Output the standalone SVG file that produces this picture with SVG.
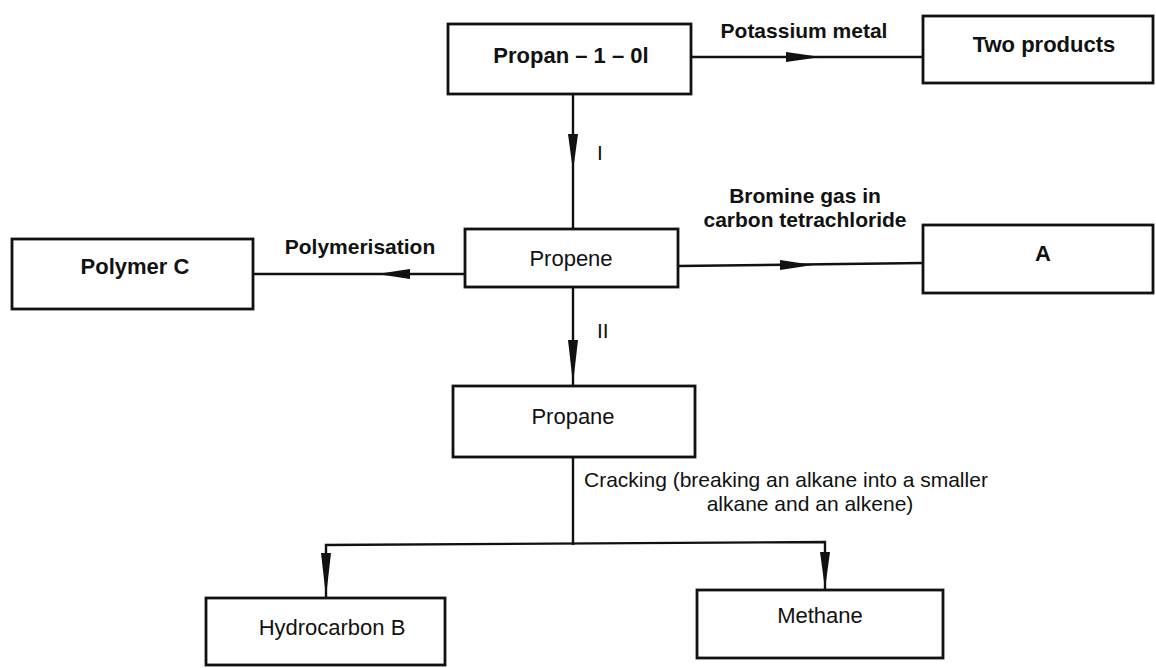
<svg xmlns="http://www.w3.org/2000/svg" width="1156" height="668" viewBox="0 0 1156 668">
<style>
.box{fill:#fff;stroke:#111;stroke-width:2.8}
.ln{fill:none;stroke:#111;stroke-width:2.4}
.hd{fill:#111;stroke:none}
text{font-family:"Liberation Sans",Arial,sans-serif;fill:#111}
.t{font-size:22px;text-anchor:middle}
.b{font-weight:bold}
.lb{font-size:21px}
</style>
<rect width="1156" height="668" fill="#fff"/>
<g id="connectors">
<line class="ln" x1="691" y1="57" x2="923" y2="57"/>
<polygon class="hd" points="786,52 786,62 821,57"/>
<line class="ln" x1="573" y1="94" x2="573" y2="229"/>
<polygon class="hd" points="568,134 578,134 573,171"/>
<line class="ln" x1="465" y1="274" x2="253" y2="274"/>
<polygon class="hd" points="410,269 410,279 377,274"/>
<line class="ln" x1="678" y1="266" x2="923" y2="263"/>
<polygon class="hd" points="780,260 780,270 813,265"/>
<line class="ln" x1="573" y1="287" x2="573" y2="386"/>
<polygon class="hd" points="568,340 578,340 573,384"/>
<line class="ln" x1="573" y1="457" x2="573" y2="545"/>
<polyline class="ln" points="326,598 326,545 825,542 825,590"/>
<polygon class="hd" points="321,553 331,553 326,597"/>
<polygon class="hd" points="820,552 830,552 825,589"/>
<text class="lb b" x="804" y="38" text-anchor="middle">Potassium metal</text>
<text class="lb" x="597" y="160">I</text>
<text class="lb b" x="360" y="254" text-anchor="middle">Polymerisation</text>
<text class="lb b" x="805" y="203" text-anchor="middle">Bromine gas in</text>
<text class="lb b" x="805" y="227" text-anchor="middle">carbon tetrachloride</text>
<text class="lb" x="597" y="338">II</text>
<text class="lb" x="584" y="487">Cracking (breaking an alkane into a smaller</text>
<text class="lb" x="810" y="511" text-anchor="middle">alkane and an alkene)</text>
</g>
<g id="propanol"><rect class="box" x="448" y="24" width="243" height="70"/><text class="t b" x="571" y="63">Propan – 1 – 0l</text></g>
<g id="two-products"><rect class="box" x="923" y="16" width="230" height="67"/><text class="t b" x="1044" y="52">Two products</text></g>
<g id="propene"><rect class="box" x="465" y="229" width="213" height="58"/><text class="t" x="571" y="266">Propene</text></g>
<g id="polymer-c"><rect class="box" x="12" y="239" width="241" height="70"/><text class="t b" x="135" y="274">Polymer C</text></g>
<g id="a"><rect class="box" x="923" y="225" width="230" height="68"/><text class="t b" x="1043" y="261">A</text></g>
<g id="propane"><rect class="box" x="453" y="386" width="242" height="71"/><text class="t" x="573" y="424">Propane</text></g>
<g id="hydrocarbon-b"><rect class="box" x="206" y="598" width="239" height="67"/><text class="t" x="332" y="635">Hydrocarbon B</text></g>
<g id="methane"><rect class="box" x="697" y="590" width="246" height="68"/><text class="t" x="820" y="623">Methane</text></g>
</svg>
